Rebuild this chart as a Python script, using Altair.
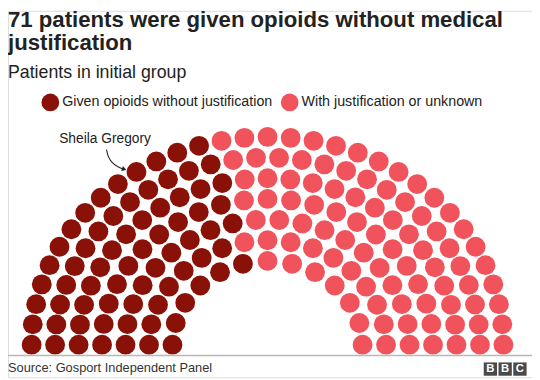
import math
import altair as alt
import pandas as pd

# ---------------- data ----------------
title_lines = ["71 patients were given opioids without medical", "justification"]
subtitle = "Patients in initial group"
categories = ["Given opioids without justification", "With justification or unknown"]
counts = [71, 92]
row_seats = [33, 30, 27, 23, 20, 17, 13]   # seats per row, outer to inner
colors = ["#8a1108", "#f0535b"]
highlight_name = "Sheila Gregory"
highlight_row = 0
highlight_seat = 10
source_text = "Source: Gosport Independent Panel"
logo_letters = ["B", "B", "C"]

# ---------------- layout (parliament arc) ----------------
OUTER_R = 239.5
INNER_R = 96.5
step = (OUTER_R - INNER_R) / (len(row_seats) - 1)
seats = []
for i, n in enumerate(row_seats):
    r = OUTER_R - i * step
    for k in range(n):
        th = math.pi - k * math.pi / (n - 1)
        seats.append({"row": i, "seat": k, "theta": th,
                      "x": r * math.cos(th), "y": r * math.sin(th)})
seats.sort(key=lambda s: (-round(s["theta"], 9), s["row"]))
cat_list = []
for c, n in zip(categories, counts):
    cat_list += [c] * n
for s, c in zip(seats, cat_list):
    s["category"] = c
df = pd.DataFrame(seats)

hl = df[(df.row == highlight_row) & (df.seat == highlight_seat)].iloc[0]
arrow_off = [(-30.4, 25.6), (-28.9, 17.7), (-25.4, 10.9), (-19.4, 5.8), (-12.5, 3.0)]
arrow_df = pd.DataFrame({"x": [hl.x + a for a, b in arrow_off],
                         "y": [hl.y + b for a, b in arrow_off],
                         "o": list(range(len(arrow_off)))})
head_df = arrow_df.tail(1)
label_df = pd.DataFrame({"x": [hl.x - 31.9], "y": [hl.y + 33.6], "t": [highlight_name]})

W, H = 532, 372
xs = alt.Scale(domain=[-263.5, 268.5], nice=False, zero=False)
ys = alt.Scale(domain=[-37.46, 384.79], nice=False, zero=False)
X = lambda f: alt.X(f, scale=xs, axis=None)
Y = lambda f: alt.Y(f, scale=ys, axis=None)
FONT = "Liberation Sans"

dots = alt.Chart(df).mark_point(filled=True, size=405, opacity=1, shape="circle", strokeWidth=0).encode(
    x=X("x:Q"), y=Y("y:Q"),
    color=alt.Color("category:N",
                    scale=alt.Scale(domain=categories, range=colors),
                    legend=alt.Legend(orient="none", legendX=34, legendY=84, direction="horizontal",
                                      title=None, symbolType="circle", symbolSize=324,
                                      symbolStrokeWidth=0, symbolOpacity=1,
                                      labelFontSize=14.5, labelFont=FONT, labelColor="#222222",
                                      labelOffset=3, columnPadding=8, padding=0, labelLimit=400)),
)

arrow = alt.Chart(arrow_df).mark_line(color="#222222", strokeWidth=1.1, interpolate="basis").encode(
    x=X("x:Q"), y=Y("y:Q"), order="o:O")
head = alt.Chart(head_df).mark_point(shape="triangle-right", filled=True, size=28, angle=20,
                                      color="#222222", opacity=1).encode(x=X("x:Q"), y=Y("y:Q"))
label = alt.Chart(label_df).mark_text(font=FONT, fontSize=14, color="#222222", align="center",
                                       baseline="alphabetic").encode(x=X("x:Q"), y=Y("y:Q"), text="t:N")

def txt(s, x, y, size, weight="normal", color="#222222", align="left"):
    return alt.Chart(pd.DataFrame({"t": [s]})).mark_text(
        font=FONT, fontSize=size, fontWeight=weight, color=color, align=align, baseline="alphabetic"
    ).encode(x=alt.value(x), y=alt.value(y), text="t:N")

texts = [
    txt(title_lines[0], 0, 16.5, 22.5, "bold"),
    txt(title_lines[1], 0, 39.5, 22.5, "bold"),
    txt(subtitle, 0, 68, 18),
    txt(source_text, 0, 366.5, 13, color="#333333"),
]

rule = alt.Chart(pd.DataFrame({"a": [0]})).mark_rule(color="#b8b8b8", strokeWidth=1.5).encode(
    x=alt.value(0), x2=alt.value(W), y=alt.value(350))

logo = []
for i, letter in enumerate(logo_letters):
    x0 = 483 + i * 15
    logo.append(alt.Chart(pd.DataFrame({"a": [0]})).mark_rect(color="#4a4a4a").encode(
        x=alt.value(x0), x2=alt.value(x0 + 13.5), y=alt.value(357), y2=alt.value(370.5)))
    logo.append(alt.Chart(pd.DataFrame({"t": [letter]})).mark_text(
        font=FONT, fontSize=11.5, fontWeight="bold", color="white", align="center", baseline="middle"
    ).encode(x=alt.value(x0 + 6.75), y=alt.value(364), text="t:N"))

chart = alt.layer(dots, arrow, head, label, rule, *texts, *logo).properties(
    width=W, height=H, autosize=alt.AutoSizeParams(type="none"), padding=0
).configure_view(stroke=None).configure(font=FONT)

chart.save("out.html", embed_options={"renderer": "svg", "actions": False})
